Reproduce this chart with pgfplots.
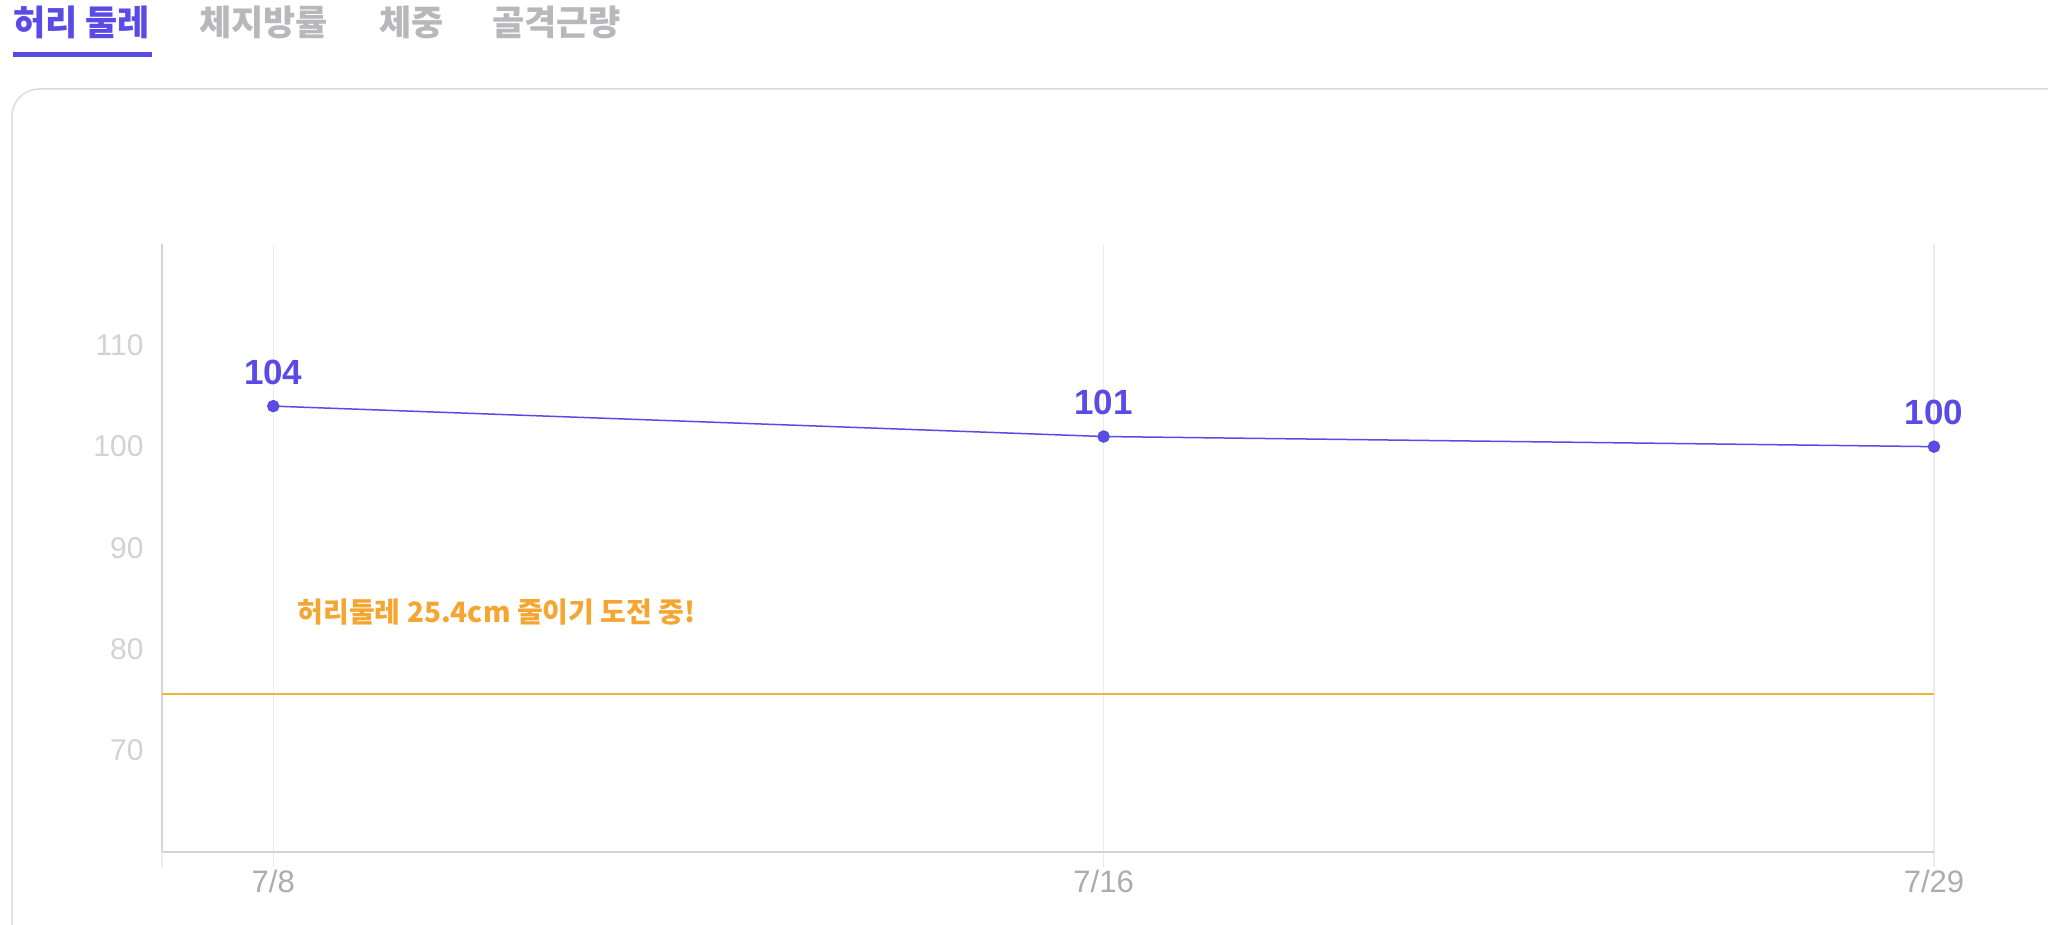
\documentclass[border=0pt]{standalone}
\usepackage{pgfplots}
\pgfplotsset{compat=1.18}
\usepackage{fontspec}
\setmainfont{Liberation Sans}
\newfontfamily\kr{Noto Sans CJK KR}
\definecolor{purp}{RGB}{90,74,230}
\definecolor{orangetxt}{RGB}{245,166,50}
\definecolor{orangeline}{RGB}{242,180,62}
\definecolor{tabgrey}{RGB}{184,184,186}
\definecolor{gridc}{RGB}{236,236,236}
\definecolor{axisc}{RGB}{212,212,212}
\definecolor{ytl}{RGB}{210,210,210}
\definecolor{xtl}{RGB}{172,172,174}
\definecolor{cardc}{RGB}{220,220,220}
\begin{document}
\begin{tikzpicture}[x=1pt,y=1pt]
\useasboundingbox (0,0) rectangle (2048,925);
% tabs
\node[anchor=west, inner sep=0pt, text=purp, font=\kr\bfseries\fontsize{35}{40}\selectfont] at (13,903) {허리 둘레};
\node[anchor=west, inner sep=0pt, text=tabgrey, font=\kr\bfseries\fontsize{35}{40}\selectfont] at (199,903) {체지방률};
\node[anchor=west, inner sep=0pt, text=tabgrey, font=\kr\bfseries\fontsize{35}{40}\selectfont] at (379,903) {체중};
\node[anchor=west, inner sep=0pt, text=tabgrey, font=\kr\bfseries\fontsize{35}{40}\selectfont] at (492,903) {골격근량};
\fill[purp] (13,868) rectangle (152,873);
% card
\draw[cardc, line width=1.5pt, rounded corners=27pt] (12,-60) -- (12,836) -- (2120,836);
\begin{axis}[
  at={(162pt,73pt)}, anchor=south west, scale only axis,
  width=1772pt, height=608pt,
  xmin=-0.134, xmax=2, ymin=60, ymax=120,
  clip=false,
  axis lines=left,
  axis line style={draw=axisc, line width=1.5pt, -},
  xtick={0,1,2}, xticklabels={7/8,7/16,7/29},
  extra x ticks={-0.134}, extra x tick labels={},
  extra x tick style={grid=none},
  ytick={70,80,90,100,110},
  /pgf/number format/assume math mode=true,
  major tick length=15pt, tick align=outside,
  xtick style={draw=gridc, line width=1.5pt},
  ytick style={draw=none},
  xmajorgrids, major grid style={draw=gridc, line width=1.5pt},
  xticklabel style={text=xtl, font=\fontsize{31}{36}\selectfont},
  yticklabel style={text=ytl, font=\fontsize{30}{36}\selectfont},
]
\addplot[orangeline, line width=2pt, forget plot] coordinates {(-0.134,75.6) (2,75.6)};
\addplot[purp, line width=1.5pt, mark=*, mark size=5.5pt,
  mark options={fill=purp, draw=purp},
  nodes near coords, point meta=explicit symbolic,
  every node near coord/.append style={anchor=base, yshift=22pt, text=purp, font=\bfseries\fontsize{35}{40}\selectfont}]
  coordinates {(0,104)[104] (1,101)[101] (2,100)[100]};
\node[anchor=west, inner sep=0pt, text=orangetxt, font=\kr\bfseries\fontsize{28}{32}\selectfont] at (axis cs:0.029,83.7) {허리둘레 25.4cm 줄이기 도전 중!};
\end{axis}
\end{tikzpicture}
\end{document}
